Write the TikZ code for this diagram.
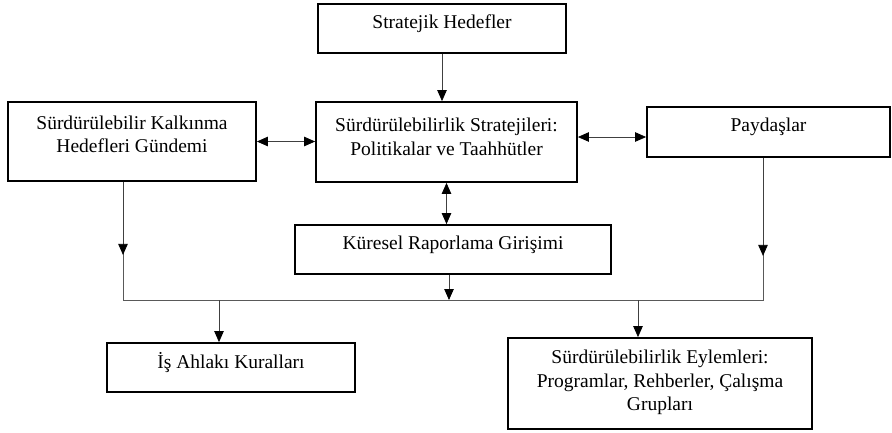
\documentclass[tikz,border=0pt]{standalone}
\usepackage{fontspec}
\setmainfont{Liberation Serif}
\usetikzlibrary{arrows.meta}

\begin{document}
\begin{tikzpicture}[
    x=1pt, y=-1pt,
    box/.style={
        draw,
        line width=1.8pt,
        inner sep=0pt
    },
    txt/.style={
        align=center,
        yshift=5pt,
        font=\fontsize{19.5}{23.5}\selectfont
    },
    arrow/.style={-{Triangle[length=11pt,width=9.5pt,color=black]}, line width=0.8pt, black!75},
    dblarrow/.style={{Triangle[length=11pt,width=9.5pt,color=black]}-{Triangle[length=11pt,width=9.5pt,color=black]}, line width=0.8pt, black!75},
    busline/.style={line width=0.8pt, black!65}
]
\useasboundingbox (0,0) rectangle (892,432);

\node[box, minimum width=248pt, minimum height=49pt,
    label={[txt]center:Stratejik Hedefler}] (strat) at (442,28.5) {};

\node[box, minimum width=248pt, minimum height=79pt,
    label={[txt, yshift=2pt]center:{Sürdürülebilir Kalkınma\\Hedefleri Gündemi}}] (sdg) at (132,141.5) {};

\node[box, minimum width=261pt, minimum height=80pt,
    label={[txt]center:{Sürdürülebilirlik Stratejileri:\\Politikalar ve Taahhütler}}] (strategies) at (446.5,142) {};

\node[box, minimum width=243pt, minimum height=50pt,
    label={[txt]center:Paydaşlar}] (stake) at (768.5,132) {};

\node[box, minimum width=316pt, minimum height=49pt,
    label={[txt]center:Küresel Raporlama Girişimi}] (gri) at (453,249.5) {};

\node[box, minimum width=248pt, minimum height=49pt,
    label={[txt]center:İş Ahlakı Kuralları}] (ethics) at (231,367.5) {};

\node[box, minimum width=304pt, minimum height=91pt,
    label={[txt, yshift=-4pt]center:{Sürdürülebilirlik Eylemleri:\\Programlar, Rehberler, Çalışma\\Grupları}}] (actions) at (660,383.5) {};

\coordinate (busL) at (123,300);
\coordinate (busR) at (763,300);
\coordinate (tapL) at (219,300);
\coordinate (tapR) at (638,300);

\draw[arrow] (strat.south) -- (strat.south |- strategies.north);
\draw[dblarrow] (sdg.east) -- (sdg.east -| strategies.west);
\draw[dblarrow] ([yshift=-5pt]stake.west -| strategies.east) -- ([yshift=-5pt]stake.west);
\draw[dblarrow] (strategies.south) -- (strategies.south |- gri.north);

\draw[busline] (sdg.south -| busL) -- (busL) -- (busR) -- (stake.south -| busR);
\draw[arrow] (sdg.south -| busL) -- ++(0,73);
\draw[arrow] (stake.south -| busR) -- ++(0,98);
\draw[arrow] ([xshift=-4pt]gri.south) -- ([xshift=-4pt]gri.south |- busL);

\draw[arrow] (tapL) -- (tapL |- ethics.north);
\draw[arrow] (tapR) -- (tapR |- actions.north);

\end{tikzpicture}
\end{document}
